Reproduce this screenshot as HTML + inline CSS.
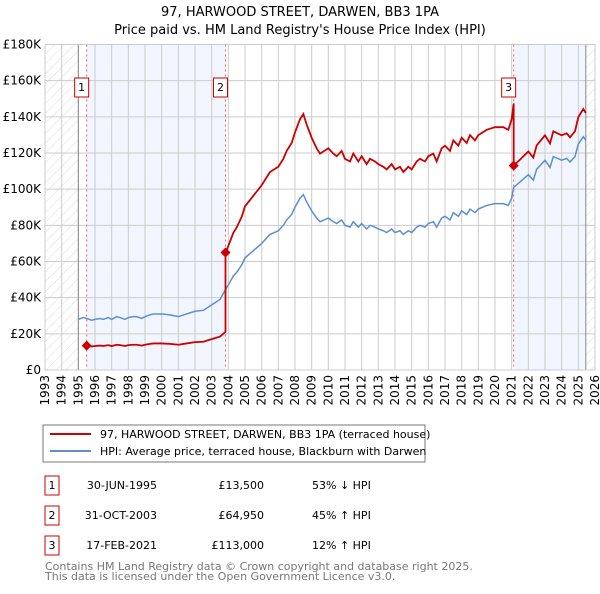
<!DOCTYPE html>
<html><head><meta charset="utf-8"><style>
body{margin:0;background:#fff;font-family:"DejaVu Sans","Liberation Sans",sans-serif}
svg text{font-family:"DejaVu Sans","Liberation Sans",sans-serif}
</style></head><body>
<svg id="c" width="600" height="590" viewBox="0 0 600 590" xmlns="http://www.w3.org/2000/svg">
<defs><pattern id="h" width="7" height="7" patternUnits="userSpaceOnUse" patternTransform="rotate(45)"><line x1="0" y1="0" x2="0" y2="7" stroke="#ccc" stroke-width="0.7"/></pattern></defs>
<text x="300" y="16" text-anchor="middle" font-size="13">97, HARWOOD STREET, DARWEN, BB3 1PA</text>
<text x="300" y="34" text-anchor="middle" font-size="13">Price paid vs. HM Land Registry's House Price Index (HPI)</text>
<g id="plot"></g>
<rect x="43" y="425" width="382" height="37" fill="#fff" stroke="#777"/>
<line x1="50" y1="434" x2="91" y2="434" stroke="#cc0000" stroke-width="2"/>
<text x="100" y="438" font-size="11">97, HARWOOD STREET, DARWEN, BB3 1PA (terraced house)</text>
<line x1="50" y1="451" x2="91" y2="451" stroke="#5b8fd0" stroke-width="2"/>
<text x="100" y="455" font-size="11">HPI: Average price, terraced house, Blackburn with Darwen</text>
<g font-size="11">
<rect x="45" y="476" width="14" height="19" fill="#fff" stroke="#cc0000"/><text x="52" y="489" text-anchor="middle">1</text>
<text x="157" y="489" text-anchor="end">30-JUN-1995</text><text x="264" y="489" text-anchor="end">£13,500</text><text x="312" y="489">53% ↓ HPI</text>
<rect x="45" y="506" width="14" height="19" fill="#fff" stroke="#cc0000"/><text x="52" y="519" text-anchor="middle">2</text>
<text x="157" y="519" text-anchor="end">31-OCT-2003</text><text x="264" y="519" text-anchor="end">£64,950</text><text x="312" y="519">45% ↑ HPI</text>
<rect x="45" y="536" width="14" height="19" fill="#fff" stroke="#cc0000"/><text x="52" y="549" text-anchor="middle">3</text>
<text x="157" y="549" text-anchor="end">17-FEB-2021</text><text x="264" y="549" text-anchor="end">£113,000</text><text x="312" y="549">12% ↑ HPI</text>
</g>
<text x="45" y="570" font-size="11" fill="#777">Contains HM Land Registry data © Crown copyright and database right 2025.</text>
<text x="45" y="580" font-size="11" fill="#777">This data is licensed under the Open Government Licence v3.0.</text>
</svg>
<script>
const hpiYears=[1995.0,1995.3,1995.5,1995.8,1996.0,1996.3,1996.5,1996.8,1997.0,1997.3,1997.5,1997.8,1998.0,1998.3,1998.5,1998.8,1999.0,1999.3,1999.5,2000.0,2000.5,2001.0,2001.5,2002.0,2002.5,2003.0,2003.5,2003.83,2004.0,2004.3,2004.5,2004.8,2005.0,2005.5,2006.0,2006.5,2007.0,2007.3,2007.5,2007.8,2008.0,2008.3,2008.5,2008.7,2009.0,2009.3,2009.5,2010.0,2010.3,2010.5,2010.8,2011.0,2011.3,2011.5,2011.8,2012.0,2012.3,2012.5,2012.8,2013.0,2013.3,2013.5,2013.8,2014.0,2014.3,2014.5,2014.8,2015.0,2015.3,2015.5,2015.8,2016.0,2016.3,2016.5,2016.8,2017.0,2017.3,2017.5,2017.8,2018.0,2018.3,2018.5,2018.8,2019.0,2019.5,2020.0,2020.5,2020.8,2021.0,2021.12,2021.5,2022.0,2022.3,2022.5,2023.0,2023.3,2023.5,2024.0,2024.3,2024.5,2024.8,2025.0,2025.3,2025.45];
const hpiValues=[28,29,28.5,27.5,28,28.5,28,29,28,29.5,29,28,29,29.5,29.5,28.5,29.5,30.5,31,31,30.5,29.5,31,32.5,33,36,39,44.5,47,52,54,58,62,66,70,75,77,80,83,86,90,95,97,93,88,84,82,84,82,81,83,80,79,82,79,81,78,80,79,78,77,76,78,76,77,75,77,76,79,80,79,81,82,79,84,85,83,87,85,88,86,89,87,89,91,92,92,91,95,101,104,108,105,111,116,112,118,116,117,115,118,125,129,127];
const saleYears=[1995.5,2003.83,2021.12];
const salePrices=[13.5,64.95,113];
const yTicks=[0,20,40,60,80,100,120,140,160,180];
const xTicks=[1993,1994,1995,1996,1997,1998,1999,2000,2001,2002,2003,2004,2005,2006,2007,2008,2009,2010,2011,2012,2013,2014,2015,2016,2017,2018,2019,2020,2021,2022,2023,2024,2025,2026];
const X0=45,X1=595,Y0=370,Y1=44.5;
const xs=y=>X0+(y-1993)/33*(X1-X0);
const ys=v=>Y0-v/180*(Y0-Y1);
const g=document.getElementById('plot');
const NS='http://www.w3.org/2000/svg';
function mk(t,a,p){const e=document.createElementNS(NS,t);for(const k in a)e.setAttribute(k,a[k]);(p||g).appendChild(e);return e;}
let e;
e=mk('rect',{x:xs(1993),y:Y1,width:xs(1995)-xs(1993),height:Y0-Y1,fill:'url(#h)'});


e=mk('rect',{x:xs(2025.45),y:Y1,width:X1-xs(2025.45),height:Y0-Y1,fill:'url(#h)'});


e=mk('rect',{x:xs(saleYears[0]),y:Y1,width:xs(saleYears[1])-xs(saleYears[0]),height:Y0-Y1,fill:'#eef3fc',opacity:0.8});


e=mk('rect',{x:xs(saleYears[2]),y:Y1,width:xs(2025.45)-xs(saleYears[2]),height:Y0-Y1,fill:'#eef3fc',opacity:0.8});


yTicks.forEach(v=>{
 e=mk('line',{x1:X0,x2:X1,y1:ys(v),y2:ys(v),stroke:'#ccc'});
 
 
 e=mk('text',{x:X0-4,y:ys(v)+4,'text-anchor':'end','font-size':'12'});e.textContent=v?'£'+v+'K':'£0';
 
 
});
xTicks.forEach(y=>{
 e=mk('line',{x1:xs(y),x2:xs(y),y1:Y1,y2:Y0,stroke:'#ccc'});
 
 
 e=mk('text',{x:0,y:0,'font-size':'12','text-anchor':'end',transform:`translate(${xs(y)+4},${Y0+5}) rotate(-90)`});e.textContent=y;
 
 
});
e=mk('line',{x1:xs(1995),x2:xs(1995),y1:Y1,y2:Y0,stroke:'#888'});


e=mk('line',{x1:xs(2025.45),x2:xs(2025.45),y1:Y1,y2:Y0,stroke:'#888'});


saleYears.forEach((y,i)=>{
 e=mk('line',{x1:xs(y),x2:xs(y),y1:Y1,y2:Y0,stroke:'#f06060','stroke-dasharray':'2,3'});
 
 
});
function hpiAt(t){for(let i=0;i<hpiYears.length-1;i++){if(t<=hpiYears[i+1]){const f=(t-hpiYears[i])/(hpiYears[i+1]-hpiYears[i]);return hpiValues[i]+f*(hpiValues[i+1]-hpiValues[i]);}}return hpiValues[hpiValues.length-1];}
e=mk('polyline',{points:hpiYears.map((y,i)=>xs(y)+','+ys(hpiValues[i])).join(' '),fill:'none',stroke:'#5b8fd0','stroke-width':1.5});


let pts=[];
hpiYears.forEach((y,i)=>{
 let k=-1;saleYears.forEach((s,j)=>{if(y>=s)k=j;});
 if(k<0)return;
 pts.push([y,salePrices[k]*hpiValues[i]/hpiAt(saleYears[k])]);
});
saleYears.forEach((s,j)=>{
 if(j>0)pts.push([s-0.0001,salePrices[j-1]*hpiAt(s)/hpiAt(saleYears[j-1])]);
 pts.push([s,salePrices[j]]);
});
pts.sort((a,b)=>a[0]-b[0]);
e=mk('polyline',{points:pts.map(p=>xs(p[0])+','+ys(p[1])).join(' '),fill:'none',stroke:'#cc0000','stroke-width':1.8});


saleYears.forEach((y,i)=>{
 const cx=xs(y),cy=ys(salePrices[i]);
 e=mk('path',{d:`M${cx-5},${cy}L${cx},${cy-5}L${cx+5},${cy}L${cx},${cy+5}Z`,fill:'#cc0000'});
 
 
 const rx=cx-12;
 e=mk('rect',{x:rx,y:78,width:14,height:19,fill:'#fff',stroke:'#cc0000'});
 
 
 e=mk('text',{x:rx+7,y:91,'text-anchor':'middle','font-size':'11'});e.textContent=i+1;
 
 
});
e=mk('rect',{x:X0,y:Y1,width:X1-X0,height:Y0-Y1,fill:'none',stroke:'#ccc'});


</script>
</body></html>
